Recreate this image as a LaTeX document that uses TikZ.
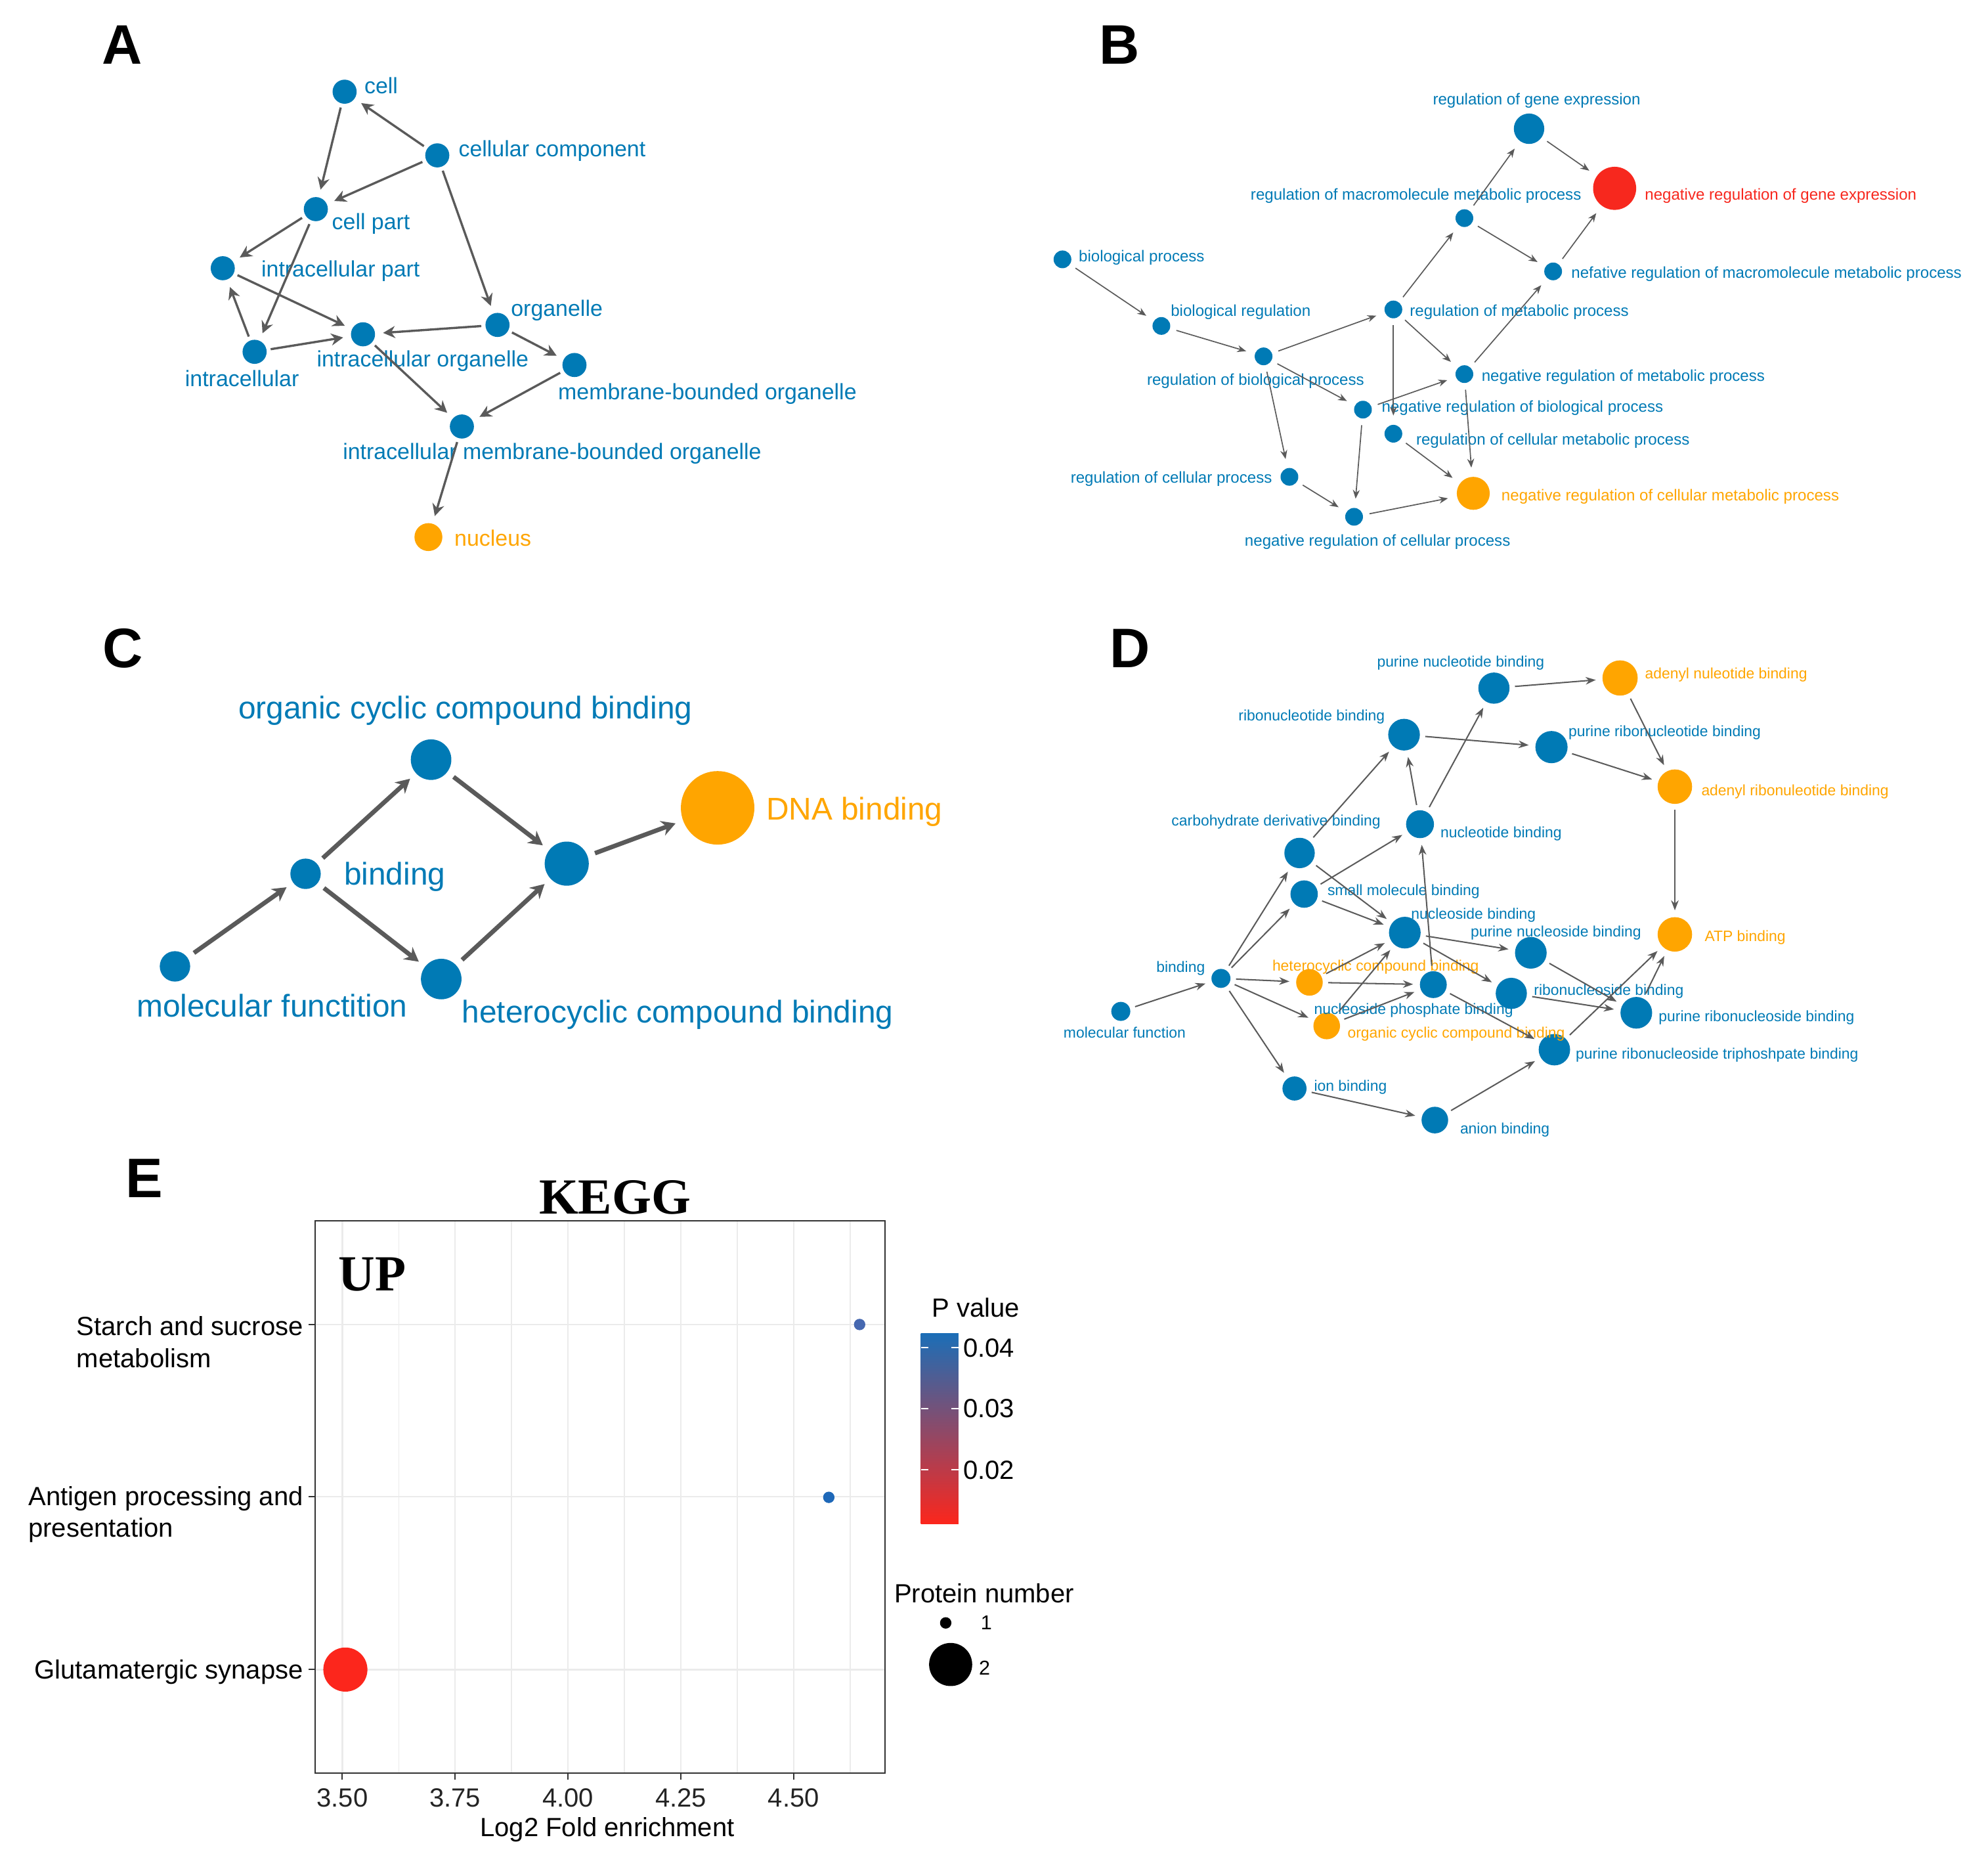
\documentclass[tikz,border=0pt]{standalone}
\usepackage{fontspec}
\setmainfont{Liberation Sans}
\newfontfamily\keggfont{Liberation Serif}
\usetikzlibrary{arrows.meta}

\definecolor{goblue}{RGB}{0,122,181}
\definecolor{goorange}{RGB}{255,165,0}
\definecolor{gored}{RGB}{247,40,30}
\definecolor{edgegray}{RGB}{90,90,90}
\definecolor{gridgray}{RGB}{235,235,235}
\definecolor{axisgray}{RGB}{51,51,51}
\definecolor{ptop}{RGB}{27,110,183}
\definecolor{pmid}{RGB}{176,88,122}
\definecolor{pbot}{RGB}{252,38,28}
\definecolor{dotstarch}{RGB}{70,104,176}
\definecolor{dotantigen}{RGB}{30,104,184}

\tikzset{
  goterm/.style={circle, fill=goblue, inner sep=0pt, minimum size=#1*0.04cm},
  goterm/.default=9.5,
  gohit/.style={goterm=#1, fill=goorange},
  goroot/.style={goterm=#1, fill=gored},
  panel/.style={font=\fontsize{25}{30}\selectfont\bfseries, inner sep=0pt},
  lblA/.style={font=\fontsize{10}{12}\selectfont, text=goblue, inner sep=0pt, yshift=-0.04cm},
  lblB/.style={font=\fontsize{7.1}{9}\selectfont, text=goblue, inner sep=0pt, yshift=-0.02cm},
  lblC/.style={font=\fontsize{14.1}{17}\selectfont, text=goblue, inner sep=0pt, yshift=-0.08cm},
  lblD/.style={font=\fontsize{6.75}{8}\selectfont, text=goblue, inner sep=0pt, yshift=-0.015cm},
  lblE/.style={font=\fontsize{11.8}{14}\selectfont, inner sep=0pt},
  axislbl/.style={lblE, yshift=-0.05cm},
  bigserif/.style={font=\keggfont\bfseries\fontsize{22.7}{27}\selectfont, inner sep=0pt},
  edgeA/.style={draw=edgegray, line width=1pt,
    -{Stealth[length=0.19cm, width=0.19cm]}, shorten <=0.06cm, shorten >=0.12cm},
  edgeB/.style={draw=edgegray, line width=0.5pt,
    -{Stealth[length=0.14cm, width=0.11cm]}, shorten <=0.1cm, shorten >=0.14cm},
  edgeC/.style={draw=edgegray, line width=2pt,
    -{Stealth[length=0.22cm, width=0.24cm]}, shorten <=0.12cm, shorten >=0.12cm},
  edgeD/.style={draw=edgegray, line width=0.6pt,
    -{Stealth[length=0.16cm, width=0.12cm]}, shorten <=0.08cm, shorten >=0.1cm},
  gridmajor/.style={draw=gridgray, line width=0.7pt},
  gridminor/.style={draw=gridgray, line width=0.45pt}
}

\begin{document}
\begin{tikzpicture}[x=0.02cm, y=-0.02cm]
  \useasboundingbox (0,0) rectangle (1568,1472);

  % panel A
  \node[panel] (pA) at (96.4,35.5) {A};
  \draw
    (271.8,72.3) node[goterm] (cell) {}
    (344.9,122.5) node[goterm] (cellcomp) {}
    (249.1,164.9) node[goterm] (cellpart) {}
    (175.7,211.5) node[goterm] (icpart) {}
    (200.8,277.4) node[goterm] (icell) {}
    (286.3,263.6) node[goterm] (icorg) {}
    (392.4,256.2) node[goterm] (org) {}
    (453.1,287.8) node[goterm] (mbo) {}
    (364.3,336.3) node[goterm] (imbo) {}
    (337.9,423.5) node[gohit=11] (nucleus) {};
  \node[lblA, anchor=mid west] (l-cell) at (287.1,67) {cell};
  \node[lblA, anchor=mid west] (l-cellcomp) at (361.4,117) {cellular component};
  \node[lblA, anchor=mid west] (l-cellpart) at (261.5,174.5) {cell part};
  \node[lblA, anchor=mid west] (l-icpart) at (205.8,211.5) {intracellular part};
  \node[lblA, anchor=mid] (l-icell) at (190.9,297.9) {intracellular};
  \node[lblA, anchor=mid] (l-icorg) at (333.4,282.8) {intracellular organelle};
  \node[lblA, anchor=mid west] (l-org) at (402.7,242.5) {organelle};
  \node[lblA, anchor=mid west] (l-mbo) at (439.9,308.3) {membrane-bounded organelle};
  \node[lblA, anchor=mid] (l-imbo) at (435.5,355.5) {intracellular membrane-bounded organelle};
  \node[lblA, anchor=mid west, text=goorange] (l-nucleus) at (358.1,424) {nucleus};
  \begin{scope}[edgeA]
    \draw (cellcomp) to (cell);
    \draw (cell) to (cellpart);
    \draw (cellcomp) to (cellpart);
    \draw (cellcomp) to (org);
    \draw (cellpart) to (icpart);
    \draw (cellpart) to (icell);
    \draw (icell) to (icpart);
    \draw (icpart) to (icorg);
    \draw (icell) to (icorg);
    \draw (org) to (icorg);
    \draw (org) to (mbo);
    \draw (icorg) to (imbo);
    \draw (mbo) to (imbo);
    \draw (imbo) to (nucleus);
  \end{scope}

  % panel B
  \node[panel] (pB) at (883,35.5) {B};
  \draw
    (838,204.5) node[goterm=7] (bp) {}
    (916,257) node[goterm=7] (breg) {}
    (996.6,281) node[goterm=7] (rbp) {}
    (1099,244) node[goterm=7] (rmp) {}
    (1155,172) node[goterm=7] (rmmp) {}
    (1206,101.5) node[goterm=12] (rge) {}
    (1273.5,148.5) node[goroot=17] (nrge) {}
    (1225,214) node[goterm=7] (nrmmp) {}
    (1155,295) node[goterm=7] (nrmp) {}
    (1075,323) node[goterm=7] (nrbp) {}
    (1099,342) node[goterm=7] (rcmp) {}
    (1017,376) node[goterm=7] (rcp) {}
    (1068,407.5) node[goterm=7] (nrcp) {}
    (1162,389) node[gohit=13] (nrcmp) {};
  \node[lblB, anchor=mid west] (l-bp) at (850.5,200.8) {biological process};
  \node[lblB, anchor=mid west] (l-breg) at (923.1,243.8) {biological regulation};
  \node[lblB, anchor=mid] (l-rbp) at (990.3,298.2) {regulation of biological process};
  \node[lblB, anchor=mid west] (l-rmp) at (1111.6,243.8) {regulation of metabolic process};
  \node[lblB, anchor=mid west] (l-rmmp) at (986.1,151.8) {regulation of macromolecule metabolic process};
  \node[lblB, anchor=mid] (l-rge) at (1212,76.9) {regulation of gene expression};
  \node[lblB, anchor=mid west, text=gored] (l-nrge) at (1297,151.8) {negative regulation of gene expression};
  \node[lblB, anchor=mid west] (l-nrmmp) at (1239,213.6) {nefative regulation of macromolecule metabolic process};
  \node[lblB, anchor=mid west] (l-nrmp) at (1168.3,294.7) {negative regulation of metabolic process};
  \node[lblB, anchor=mid west] (l-nrbp) at (1089.5,319.2) {negative regulation of biological process};
  \node[lblB, anchor=mid west] (l-rcmp) at (1116.6,345.1) {regulation of cellular metabolic process};
  \node[lblB, anchor=mid east] (l-rcp) at (1003.6,375.3) {regulation of cellular process};
  \node[lblB, anchor=mid] (l-nrcp) at (1086.5,424.8) {negative regulation of cellular process};
  \node[lblB, anchor=mid west, text=goorange] (l-nrcmp) at (1183.9,389) {negative regulation of cellular metabolic process};
  \begin{scope}[edgeB]
    \draw (bp) to (breg);
    \draw (breg) to (rbp);
    \draw (rbp) to (rmp);
    \draw (rbp) to (nrbp);
    \draw (rbp) to (rcp);
    \draw (rmp) to (rmmp);
    \draw (rmp) to (nrmp);
    \draw (rmp) to (rcmp);
    \draw (rmmp) to (rge);
    \draw (rmmp) to (nrmmp);
    \draw (rge) to (nrge);
    \draw (nrmmp) to (nrge);
    \draw (nrmp) to (nrmmp);
    \draw (nrmp) to (nrcmp);
    \draw (nrbp) to (nrmp);
    \draw (nrbp) to (nrcp);
    \draw (rcmp) to (nrcmp);
    \draw (rcp) to (nrcp);
    \draw (nrcp) to (nrcmp);
  \end{scope}

  % panel C
  \node[panel] (pC) at (97,511) {C};
  \draw
    (138,762) node[goterm=12] (cmf) {}
    (241,689) node[goterm=12] (cbind) {}
    (340,599) node[goterm=16] (cocc) {}
    (348,772) node[goterm=16] (chet) {}
    (447,681) node[goterm=17.4] (cmid) {}
    (566,637) node[gohit=29] (cdna) {};
  \node[lblC, anchor=mid] (l-cmf) at (214.5,793) {molecular functition};
  \node[lblC, anchor=mid west] (l-cbind) at (271,689) {binding};
  \node[lblC, anchor=mid] (l-cocc) at (367,558) {organic cyclic compound binding};
  \node[lblC, anchor=mid west] (l-chet) at (364,798) {heterocyclic compound binding};
  \node[lblC, anchor=mid west, text=goorange] (l-cdna) at (604,638) {DNA binding};
  \begin{scope}[edgeC]
    \draw (cmf) to (cbind);
    \draw (cbind) to (cocc);
    \draw (cbind) to (chet);
    \draw (cocc) to (cmid);
    \draw (chet) to (cmid);
    \draw (cmid) to (cdna);
  \end{scope}

  % panel D
  \node[panel] (pD) at (891.5,511) {D};
  \draw
    (884,797.5) node[goterm=7.5] (dmf) {}
    (963,771.5) node[goterm=7.5] (dbind) {}
    (1025,672.6) node[goterm=12] (dcarb) {}
    (1028.6,705) node[goterm=10.8] (dsmall) {}
    (1107.4,579.3) node[goterm=12.5] (dribo) {}
    (1178.3,542.6) node[goterm=12.3] (dpnuc) {}
    (1120,649.9) node[goterm=11] (dnuc) {}
    (1108,735.4) node[goterm=12.5] (dnside) {}
    (1032.8,774.6) node[gohit=10.5] (dhet) {}
    (1046.4,809) node[gohit=10.5] (dorg) {}
    (1130.5,776.4) node[goterm=10.6] (dnsp) {}
    (1021,858.3) node[goterm=9.5] (dion) {}
    (1131.7,883.2) node[goterm=10.5] (danion) {}
    (1192,783.3) node[goterm=12.3] (drside) {}
    (1207.4,751.3) node[goterm=12.5] (dpnside) {}
    (1277.8,534.6) node[gohit=13.9] (danuc) {}
    (1223.7,589.1) node[goterm=12.7] (dprnuc) {}
    (1321,620.3) node[gohit=13.6] (darnuc) {}
    (1321,736.8) node[gohit=13.6] (datp) {}
    (1290.6,798.6) node[goterm=12.5] (dprside) {}
    (1226,827.7) node[goterm=12.4] (dtri) {};
  \node[lblD, anchor=mid west] (l-dpnuc) at (1085.8,520.4) {purine nucleotide binding};
  \node[lblD, anchor=mid west, text=goorange] (l-danuc) at (1297.1,529.7) {adenyl nuleotide binding};
  \node[lblD, anchor=mid east] (l-dribo) at (1092.6,562.7) {ribonucleotide binding};
  \node[lblD, anchor=mid west] (l-dprnuc) at (1236.8,575.4) {purine ribonucleotide binding};
  \node[lblD, anchor=mid west, text=goorange] (l-darnuc) at (1341.6,621.9) {adenyl ribonuleotide binding};
  \node[lblD, anchor=mid west] (l-dcarb) at (923.7,645.9) {carbohydrate derivative binding};
  \node[lblD, anchor=mid west] (l-dnuc) at (1135.8,655.2) {nucleotide binding};
  \node[lblD, anchor=mid west] (l-dsmall) at (1046.7,700.6) {small molecule binding};
  \node[lblD, anchor=mid west] (l-dnside) at (1112.7,719.1) {nucleoside binding};
  \node[lblD, anchor=mid west] (l-dpnside) at (1159.6,733.1) {purine nucleoside binding};
  \node[lblD, anchor=mid west, text=goorange] (l-datp) at (1344.2,737.1) {ATP binding};
  \node[lblD, anchor=mid east] (l-dbind) at (950.7,761.4) {binding};
  \node[lblD, anchor=mid west, text=goorange] (l-dhet) at (1003.2,760.1) {heterocyclic compound binding};
  \node[lblD, anchor=mid west] (l-drside) at (1209.5,779.3) {ribonucleoside binding};
  \node[lblD, anchor=mid west] (l-dnsp) at (1036.1,794.4) {nucleoside phosphate binding};
  \node[lblD, anchor=mid west] (l-dprside) at (1307.9,800) {purine ribonucleoside binding};
  \node[lblD, anchor=mid west, text=goorange] (l-dorg) at (1062.5,813.2) {organic cyclic compound binding};
  \node[lblD, anchor=mid] (l-dmf) at (887,813.2) {molecular function};
  \node[lblD, anchor=mid west] (l-dtri) at (1242.5,829.8) {purine ribonucleoside triphoshpate binding};
  \node[lblD, anchor=mid west] (l-dion) at (1036.1,855.2) {ion binding};
  \node[lblD, anchor=mid west] (l-danion) at (1151.3,888.7) {anion binding};
  \begin{scope}[edgeD]
    \draw (dmf) to (dbind);
    \draw (dbind) to (dcarb);
    \draw (dbind) to (dsmall);
    \draw (dbind) to (dhet);
    \draw (dbind) to (dorg);
    \draw (dbind) to (dion);
    \draw (dcarb) to (dribo);
    \draw (dcarb) to (dnside);
    \draw (dsmall) to (dnuc);
    \draw (dsmall) to (dnside);
    \draw (dhet) to (dnside);
    \draw (dhet) to (dnsp);
    \draw (dorg) to (dnside);
    \draw (dorg) to (dnsp);
    \draw (dnsp) to (dnuc);
    \draw (dnsp) to (dtri);
    \draw (dnuc) to (dribo);
    \draw (dnuc) to (dpnuc);
    \draw (dribo) to (dprnuc);
    \draw (dpnuc) to (danuc);
    \draw (danuc) to (darnuc);
    \draw (dprnuc) to (darnuc);
    \draw (darnuc) to (datp);
    \draw (dnside) to (dpnside);
    \draw (dnside) to (drside);
    \draw (dpnside) to (dprside);
    \draw (drside) to (dprside);
    \draw (dprside) to (datp);
    \draw (dtri) to (datp);
    \draw (dion) to (danion);
    \draw (danion) to (dtri);
  \end{scope}

  % panel E
  \node[panel] (pE) at (113.7,929) {E};
  \node[bigserif] (kegg) at (485,944) {KEGG};
  \foreach \v in {3.625,3.875,4.125,4.375,4.625}
    \draw[gridminor] ({270+356*(\v-3.5)},962.8) -- ({270+356*(\v-3.5)},1398.3);
  \foreach \v in {3.5,3.75,4,4.25,4.5}
    \draw[gridmajor] ({270+356*(\v-3.5)},962.8) -- ({270+356*(\v-3.5)},1398.3);
  \foreach \y in {1044.6,1180.2,1316.5}
    \draw[gridmajor] (248.8,\y) -- (698.2,\y);
  \draw[axisgray, line width=0.6pt] (248.8,962.8) rectangle (698.2,1398.3);
  \foreach \y in {1044.6,1180.2,1316.5}
    \draw[axisgray, line width=0.6pt] (243.5,\y) -- (248.8,\y);
  \foreach \v/\t in {3.5/3.50,3.75/3.75,4/4.00,4.25/4.25,4.5/4.50} {
    \draw[axisgray, line width=0.6pt] ({270+356*(\v-3.5)},1398.3) -- ({270+356*(\v-3.5)},1403.5);
    \node[axislbl, text=axisgray!70!black] at ({270+356*(\v-3.5)},1415.4) {\t};
  }
  \node[bigserif, anchor=west] (up) at (266.8,1004.7) {UP};
  \fill[dotstarch] (678,1044.4) circle (0.09cm);
  \fill[dotantigen] (653.7,1180.7) circle (0.09cm);
  \fill[pbot] (272.4,1316.5) circle (0.348cm);
  \node[axislbl, anchor=mid east] (y-starch) at (239.5,1045.7) {Starch and sucrose};
  \node[axislbl, anchor=mid west] (y-starch2) at (y-starch.west |- 0,1071.2) {metabolism};
  \node[axislbl, anchor=mid east] (y-antigen) at (239.5,1180.2) {Antigen processing and};
  \node[axislbl, anchor=mid west] (y-antigen2) at (y-antigen.west |- 0,1204.9) {presentation};
  \node[axislbl, anchor=mid east] (y-glut) at (239.5,1316.5) {Glutamatergic synapse};
  \node[axislbl, anchor=mid] (x-title) at (479,1440.7) {Log2 Fold enrichment};
  % legends
  \node[lblE, anchor=west] (pv-title) at (734.7,1031.2) {P value};
  \shade[top color=ptop, middle color=pmid, bottom color=pbot] (726.3,1051.2) rectangle (756,1201.7);
  \foreach \y/\t in {1062.7/0.04,1110.8/0.03,1159/0.02} {
    \draw[white, line width=0.6pt] (726.3,\y) -- (732,\y) (750.3,\y) -- (756,\y);
    \node[lblE, anchor=west] at (759.4,\y) {\t};
  }
  \node[lblE, anchor=west] (pn-title) at (705,1256.5) {Protein number};
  \fill (745.9,1279.7) circle (0.09cm);
  \fill (749.8,1312.5) circle (0.34cm);
  \node[lblE, font=\fontsize{9}{11}\selectfont] (pn-one) at (778,1279.7) {1};
  \node[lblE, font=\fontsize{9}{11}\selectfont] (pn-two) at (776.5,1315.4) {2};
\end{tikzpicture}
\end{document}
